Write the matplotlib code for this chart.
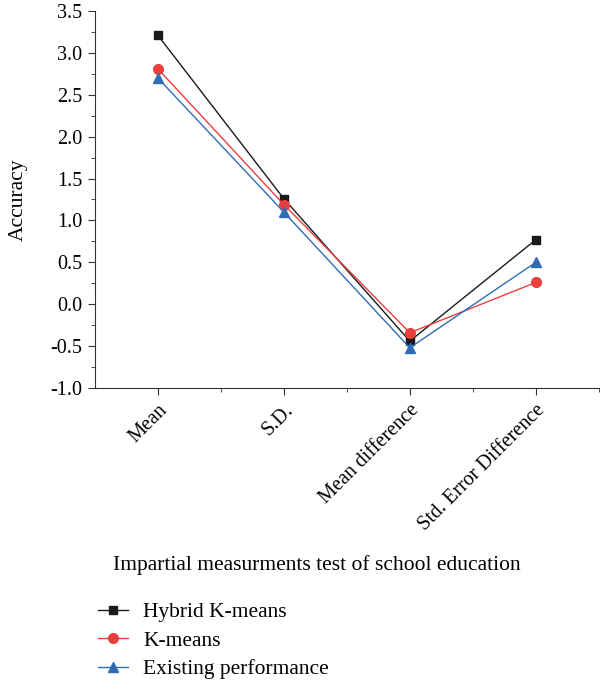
import numpy as np
import matplotlib.pyplot as plt
from matplotlib.ticker import MultipleLocator

categories = ['Mean', 'S.D.', 'Mean difference', 'Std. Error Difference']
hybrid = [3.21, 1.26, -0.44, 0.77]
kmeans = [2.81, 1.19, -0.34, 0.26]
existing = [2.70, 1.10, -0.52, 0.50]

plt.rcParams['font.family'] = ['Liberation Serif', 'DejaVu Serif']

fig = plt.figure(figsize=(6, 6.82), dpi=100)
ax = fig.add_axes([0.158, 0.431, 0.84, 0.553])

x = np.arange(len(categories))
ax.plot(x, hybrid, color='#1a1a1a', marker='s', markersize=6, lw=1, label='Hybrid K-means')
ax.plot(x, kmeans, color='#e8403f', marker='o', markersize=7, lw=1, label='K-means')
ax.plot(x, existing, color='#2e6db5', marker='^', markersize=7.5, lw=1, label='Existing performance')

ax.set_xlim(-0.5, 3.5)
ax.set_ylim(-1.0, 3.5)
ax.set_xticks(x)
ax.set_xticklabels(categories, rotation=45, ha='right', rotation_mode='anchor', fontsize=14.5)
ax.set_xticks(x + 0.5, minor=True)
ax.yaxis.set_minor_locator(MultipleLocator(0.25))
yt = np.arange(-1.0, 3.51, 0.5)
ax.set_yticks(yt)
ax.set_yticklabels([f'{v:.1f}' for v in yt], fontsize=14.5)
ax.set_ylabel('Accuracy', fontsize=15.5)
ax.yaxis.set_label_coords(-0.133, 0.5)

for s in ['top', 'right']:
    ax.spines[s].set_visible(False)
for s in ['left', 'bottom']:
    ax.spines[s].set_color('#333333')
ax.tick_params(which='major', length=5, color='#333333', pad=4)
ax.tick_params(which='minor', length=3, color='#333333')

fig.text(113 / 600, 1 - 565 / 682, 'Impartial measurments test of school education',
         fontsize=15.5, va='center', ha='left')

handles, labels = ax.get_legend_handles_labels()
fig.legend(handles, labels, loc='upper left', bbox_to_anchor=(0.163, 1 - 602 / 682),
           frameon=False, fontsize=15.5, handlelength=1.4, handletextpad=0.7,
           labelspacing=0.4, borderaxespad=0, borderpad=0)

fig.savefig('out.png', dpi=100)
